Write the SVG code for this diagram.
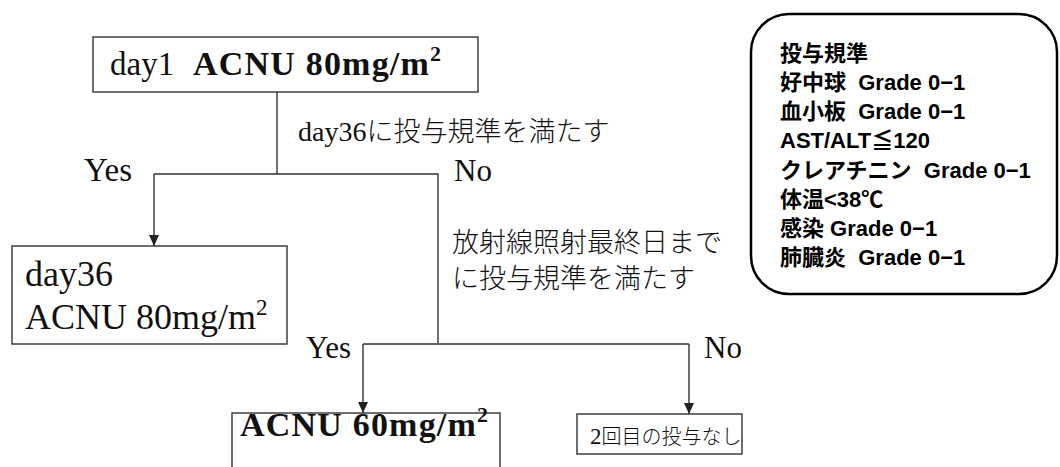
<svg xmlns="http://www.w3.org/2000/svg" width="1060" height="467" viewBox="0 0 1060 467">
<style>
.box{fill:#fff;stroke:#333;stroke-width:1.4}
.ln{fill:none;stroke:#333;stroke-width:1.4}
.serif{font-family:"Liberation Serif","Noto Sans CJK JP",serif;fill:#111}
.jp{font-family:"Noto Sans CJK JP",sans-serif;fill:#111;font-weight:300}
.crit{font-family:"Liberation Sans","Noto Sans CJK JP",sans-serif;font-weight:bold;font-size:22px;fill:#000;white-space:pre}
</style>
<defs>
<marker id="ah" markerWidth="12" markerHeight="10" refX="11" refY="5" orient="auto" markerUnits="userSpaceOnUse" viewBox="0 0 12 10">
<path d="M0,0 L11,5 L0,10 Z" fill="#222"/>
</marker>
</defs>
<rect width="1060" height="467" fill="#fff"/>
<g id="connectors">
<path class="ln" d="M277,92 V174"/>
<path class="ln" d="M154,174 H438 V343"/>
<path class="ln" d="M154,174 V246" marker-end="url(#ah)"/>
<path class="ln" d="M363,344 H689"/>
<path class="ln" d="M363,344 V413" marker-end="url(#ah)"/>
<path class="ln" d="M689,344 V414" marker-end="url(#ah)"/>
</g>
<g id="labels">
<text class="serif" x="84" y="181" font-size="33">Yes</text>
<text class="serif" x="454" y="181" font-size="31">No</text>
<text class="jp" x="298" y="141" font-size="27"><tspan class="serif" font-size="28">day36</tspan>に投与規準を満たす</text>
<text class="jp" x="452" y="252" font-size="27">放射線照射最終日まで</text>
<text class="jp" x="452" y="288" font-size="27">に投与規準を満たす</text>
<text class="serif" x="306" y="358" font-size="31">Yes</text>
<text class="serif" x="704" y="358" font-size="31">No</text>
</g>
<g id="n1">
<rect class="box" x="93" y="37" width="385" height="55"/>
<text class="serif" x="110" y="75" font-size="33">day1</text>
<text class="serif" x="193" y="75" font-size="34" font-weight="bold" letter-spacing="1.2">ACNU 80mg/m<tspan font-size="22" dy="-14">2</tspan></text>
</g>
<g id="n2">
<rect class="box" x="12" y="246" width="275" height="98"/>
<text class="serif" x="25" y="286" font-size="36">day36</text>
<text class="serif" x="25" y="329" font-size="36">ACNU 80mg/m<tspan font-size="23" dy="-14">2</tspan></text>
</g>
<g id="n3">
<rect class="box" x="232" y="413" width="268" height="62"/>
<text class="serif" x="240" y="436" font-size="34" font-weight="bold" letter-spacing="1.2">ACNU 60mg/m<tspan font-size="22" dy="-14">2</tspan></text>
</g>
<g id="n4">
<rect class="box" x="577" y="414" width="165" height="40"/>
<text class="jp" x="590" y="444" font-size="20"><tspan class="serif" font-size="23">2</tspan>回目の投与なし</text>
</g>
<g id="criteria">
<rect x="751" y="14" width="306" height="280" rx="38" ry="38" fill="#fff" stroke="#000" stroke-width="2.5"/>
<text class="crit" x="780" y="61">投与規準</text>
<text class="crit" x="780" y="90">好中球  Grade 0−1</text>
<text class="crit" x="780" y="119">血小板  Grade 0−1</text>
<text class="crit" x="780" y="148">AST/ALT≦120</text>
<text class="crit" x="780" y="178">クレアチニン  Grade 0−1</text>
<text class="crit" x="780" y="207">体温&lt;38℃</text>
<text class="crit" x="780" y="236">感染 Grade 0−1</text>
<text class="crit" x="780" y="265">肺臓炎  Grade 0−1</text>
</g>
</svg>
